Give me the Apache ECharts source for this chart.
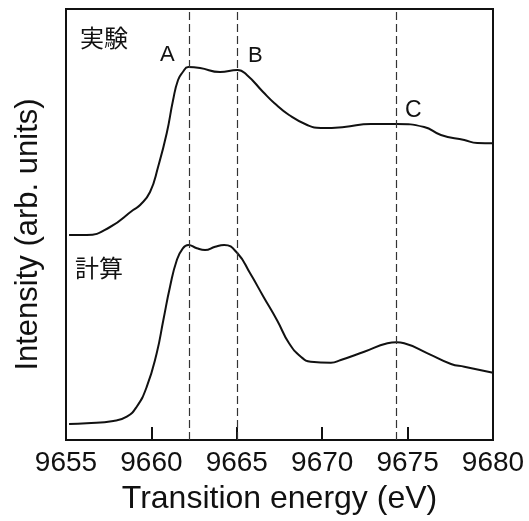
<!DOCTYPE html>
<html>
<head>
<meta charset="utf-8">
<script src="https://cdn.jsdelivr.net/npm/echarts@6/dist/echarts.min.js"></script>
<style>
html,body{margin:0;padding:0;background:#fff;}
#chart{width:529px;height:521px;}
</style>
</head>
<body>
<div id="chart"></div>
<script>
// Experimental spectrum (実験)
var energyExp = [9655.18, 9656.21, 9657.58, 9658.93, 9659.34, 9659.92, 9660.39, 9660.90, 9661.27, 9661.56, 9661.84, 9662.16, 9662.85, 9664.02, 9665.04, 9665.59, 9666.54, 9667.19, 9668.06, 9669.12, 9669.92, 9671.29, 9672.85, 9674.35, 9675.97, 9676.95, 9678.32, 9679.08, 9680.0];
var intensityExp = [2.05, 2.05, 2.13, 2.30, 2.35, 2.48, 2.73, 3.07, 3.40, 3.60, 3.68, 3.73, 3.72, 3.68, 3.70, 3.65, 3.48, 3.37, 3.25, 3.15, 3.12, 3.13, 3.16, 3.16, 3.13, 3.05, 3.00, 2.97, 2.967];
// Calculated spectrum (計算)
var energyCalc = [9655.18, 9656.21, 9657.77, 9658.56, 9659.14, 9659.73, 9660.31, 9660.70, 9661.09, 9661.49, 9661.84, 9662.16, 9662.66, 9663.14, 9663.73, 9664.26, 9665.04, 9665.78, 9666.56, 9667.38, 9668.06, 9668.75, 9669.33, 9670.51, 9671.09, 9672.46, 9673.82, 9674.35, 9674.80, 9676.17, 9677.54, 9678.32, 9680.0];
var intensityCalc = [0.16, 0.167, 0.19, 0.233, 0.333, 0.533, 0.867, 1.20, 1.533, 1.80, 1.917, 1.95, 1.917, 1.90, 1.933, 1.95, 1.867, 1.667, 1.433, 1.19, 0.967, 0.833, 0.783, 0.773, 0.80, 0.883, 0.967, 0.977, 0.967, 0.867, 0.76, 0.733, 0.673];
// Peak positions (dashed lines) and their labels
var peakEnergies = [9662.2, 9665.0, 9674.35];
var peakNames = ['A', 'B', 'C'];
var seriesNames = ['実験', '計算'];
var xMin = 9655, xMax = 9680, xStep = 5;
var yMin = 0, yMax = 4.31;

function pairs(xs, ys){ return xs.map(function(x,i){ return [x, ys[i]]; }); }

var latin = 'Liberation Sans, Arial, Helvetica, sans-serif';
var cjk = 'Noto Sans CJK JP, sans-serif';

var chart = echarts.init(document.getElementById('chart'), null, {renderer:'canvas'});
var option = {
  backgroundColor: '#ffffff',
  animation: false,
  grid: {left: 66, right: 36, top: 9, bottom: 81, show: true, borderColor: '#111', borderWidth: 2, backgroundColor: 'transparent'},
  xAxis: {
    type: 'value', min: xMin, max: xMax, interval: xStep,
    name: 'Transition energy (eV)', nameLocation: 'middle', nameGap: 43,
    nameTextStyle: {fontFamily: latin, fontSize: 32, color: '#111'},
    axisLine: {show: true, lineStyle: {color: '#111', width: 2}},
    axisTick: {show: true, inside: true, length: 13, lineStyle: {color: '#111', width: 2}},
    axisLabel: {fontFamily: latin, fontSize: 28, color: '#111', margin: 9,
      formatter: function(v){ return String(v); }},
    splitLine: {show: false}
  },
  yAxis: {
    type: 'value', min: yMin, max: yMax,
    name: 'Intensity (arb. units)', nameLocation: 'middle', nameGap: 22,
    nameTextStyle: {fontFamily: latin, fontSize: 31, color: '#111', padding: [0, 20, 0, 0]},
    axisLine: {show: true, lineStyle: {color: '#111', width: 2}},
    axisTick: {show: false}, axisLabel: {show: false}, splitLine: {show: false}
  },
  series: [
    {
      name: seriesNames[0], type: 'line', data: pairs(energyExp, intensityExp),
      showSymbol: false, smooth: 0.5,
      lineStyle: {color: '#111', width: 2},
      markLine: {
        silent: true, symbol: ['none', 'none'], label: {show: false},
        lineStyle: {color: '#333', width: 1.2, type: [8, 4]},
        data: peakEnergies.map(function(e){ return {xAxis: e}; })
      }
    },
    {
      name: seriesNames[1], type: 'line', data: pairs(energyCalc, intensityCalc),
      showSymbol: false, smooth: 0.5,
      lineStyle: {color: '#111', width: 2}
    }
  ],
  graphic: [
    {type: 'text', left: 80, top: 26, style: {text: seriesNames[0], font: '24px ' + cjk, fill: '#111'}},
    {type: 'text', left: 75, top: 256, style: {text: seriesNames[1], font: '24px ' + cjk, fill: '#111'}},
    {type: 'text', left: 160, top: 44, style: {text: peakNames[0], font: '22px ' + latin, fill: '#111'}},
    {type: 'text', left: 248, top: 45, style: {text: peakNames[1], font: '22px ' + latin, fill: '#111'}},
    {type: 'text', left: 405, top: 99, style: {text: peakNames[2], font: '23px ' + latin, fill: '#111'}}
  ]
};
chart.setOption(option);
</script>
</body>
</html>
